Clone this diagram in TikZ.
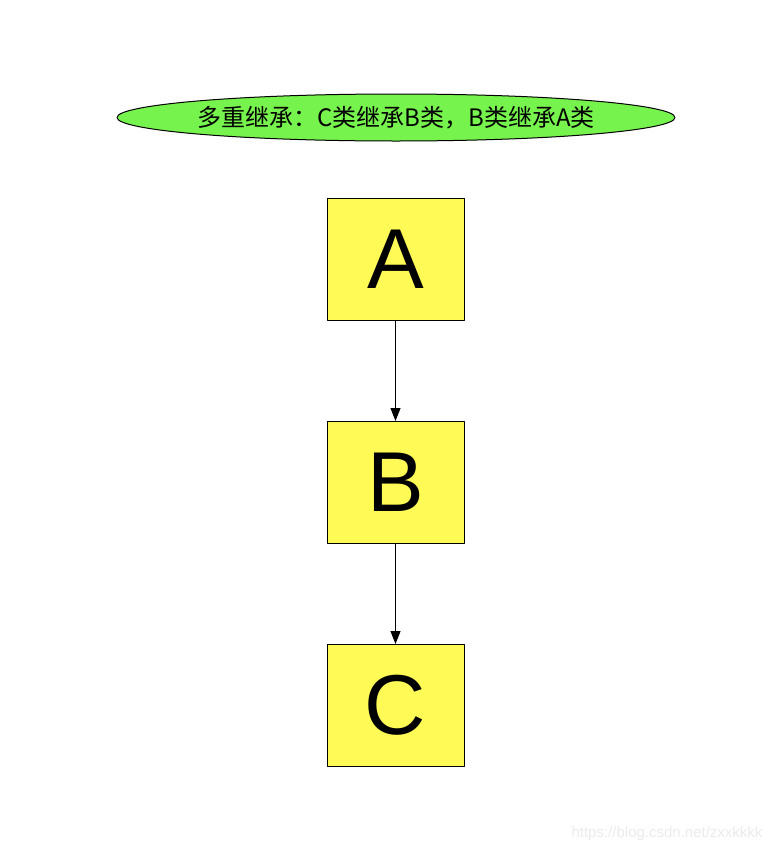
\documentclass[tikz,border=0pt]{standalone}
\usepackage{fontspec}
\setmainfont{Liberation Sans}
\newfontfamily\cjk{Noto Sans CJK SC}
\usetikzlibrary{shapes.geometric,arrows.meta}
\definecolor{boxyellow}{RGB}{255,250,85}
\definecolor{titlegreen}{RGB}{118,243,77}
\begin{document}
\begin{tikzpicture}[x=1pt, y=-1pt, line join=round, >={Triangle[length=13pt,width=10pt]},
	classbox/.style={draw, line width=1pt, fill=boxyellow, minimum width=137pt, minimum height=122pt, inner sep=0pt, font=\fontsize{85}{85}\selectfont},
	inherit/.style={->, line width=1pt}]
	\useasboundingbox (0,0) rectangle (776,854);
	\node[ellipse, draw, line width=1pt, fill=titlegreen, minimum width=558pt, minimum height=47pt, inner sep=0pt] (title) at (396,117.5) {};
	\node[font=\cjk\fontsize{24}{24}\selectfont] (titletext) at (396,118) {多重继承：C类继承B类，B类继承A类};
	\node[classbox] (A) at (395.5,259) {A};
	\node[classbox] (B) at (395.5,482.5) {B};
	\node[classbox] (C) at (395.5,705.5) {C};
	\draw[inherit] (A) -- (B);
	\draw[inherit] (B) -- (C);
	\node[text=black!8, font=\fontsize{15}{15}\selectfont, anchor=east] (mark) at (766,834) {https://blog.csdn.net/zxxkkkk};
\end{tikzpicture}
\end{document}
